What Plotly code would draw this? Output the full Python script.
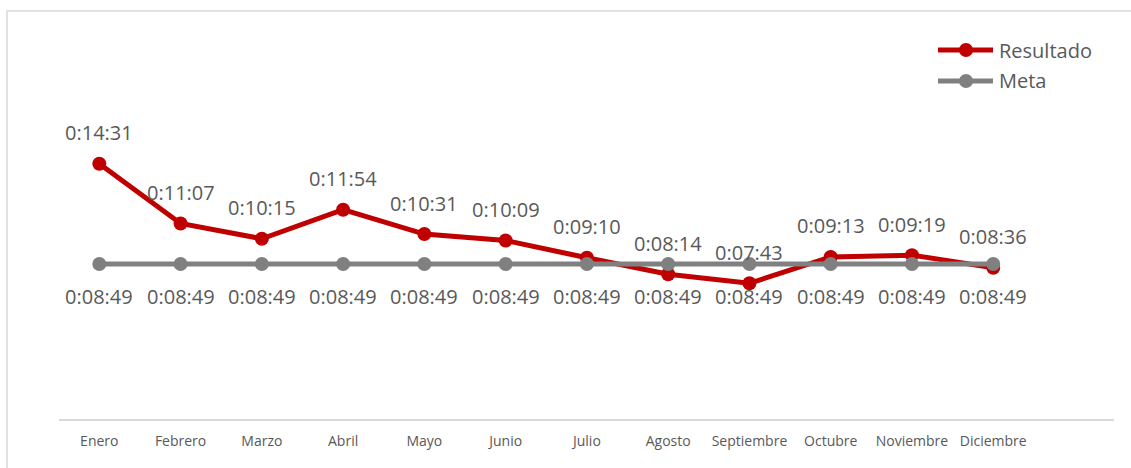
import plotly.graph_objects as go

# Monthly response time vs. target (h:mm:ss)
meses = ["Enero", "Febrero", "Marzo", "Abril", "Mayo", "Junio", "Julio",
         "Agosto", "Septiembre", "Octubre", "Noviembre", "Diciembre"]
resultado = ["0:14:31", "0:11:07", "0:10:15", "0:11:54", "0:10:31", "0:10:09",
             "0:09:10", "0:08:14", "0:07:43", "0:09:13", "0:09:19", "0:08:36"]
meta = ["0:08:49"] * 12


def to_seconds(t):
    h, m, s = (int(p) for p in t.split(":"))
    return h * 3600 + m * 60 + s


res_s = [to_seconds(t) for t in resultado]
meta_s = [to_seconds(t) for t in meta]

W, H = 1131, 468
ML, MR, MT, MB = 59, 17, 40, 49
PW, PH = W - ML - MR, H - MT - MB

RED = "#C00000"
GRAY = "#808080"
TXT = "#595959"
FONT = "Open Sans"


def px_x(px):
    return (px - ML) / PW


def px_y(py):
    return (H - MB - py) / PH


fig = go.Figure()
fig.add_trace(go.Scatter(
    x=meses, y=res_s, mode="lines+markers", name="Resultado",
    line=dict(color=RED, width=5), marker=dict(color=RED, size=14),
    showlegend=False, hoverinfo="skip"))
fig.add_trace(go.Scatter(
    x=meses, y=meta_s, mode="lines+markers", name="Meta",
    line=dict(color=GRAY, width=5), marker=dict(color=GRAY, size=14),
    showlegend=False, hoverinfo="skip"))

annotations = []
for m, v, t in zip(meses, res_s, resultado):
    annotations.append(dict(x=m, y=v, text=t, showarrow=False, yshift=31,
                            yanchor="middle",
                            font=dict(family=FONT, size=20, color=TXT)))
for m, v, t in zip(meses, meta_s, meta):
    annotations.append(dict(x=m, y=v, text=t, showarrow=False, yshift=-33,
                            yanchor="middle",
                            font=dict(family=FONT, size=20, color=TXT)))

shapes = [
    # chart frame
    dict(type="rect", xref="paper", yref="paper",
         x0=px_x(7), x1=px_x(W + 10), y0=px_y(H + 10), y1=px_y(11),
         line=dict(color="#D9D9D9", width=1.5), layer="below"),
]

# legend
for name, color, py in [("Resultado", RED, 50), ("Meta", GRAY, 81)]:
    shapes.append(dict(type="line", xref="paper", yref="paper",
                       x0=px_x(938), x1=px_x(993), y0=px_y(py), y1=px_y(py),
                       line=dict(color=color, width=5)))
    shapes.append(dict(type="circle", xref="paper", yref="paper",
                       xsizemode="pixel", ysizemode="pixel",
                       xanchor=px_x(966), yanchor=px_y(py),
                       x0=-7, x1=7, y0=-7, y1=7,
                       fillcolor=color, line=dict(color=color, width=0)))
    annotations.append(dict(xref="paper", yref="paper", x=px_x(997), y=px_y(py),
                            xanchor="left", yanchor="middle", showarrow=False,
                            text=name, font=dict(family=FONT, size=20, color=TXT)))

fig.update_layout(
    width=W, height=H,
    margin=dict(l=ML, r=MR, t=MT, b=MB),
    paper_bgcolor="white", plot_bgcolor="white",
    annotations=annotations, shapes=shapes,
    xaxis=dict(type="category", range=[-0.496, 12.486],
               showline=True, linecolor="#D9D9D9", linewidth=1.5,
               showgrid=False, zeroline=False, ticks="",
               ticklabelstandoff=8,
               tickfont=dict(family=FONT, size=14, color=TXT)),
    yaxis=dict(range=[0, 1293], showgrid=False, zeroline=False,
               showticklabels=False, showline=False, ticks=""),
)

fig.write_html("out.html")
